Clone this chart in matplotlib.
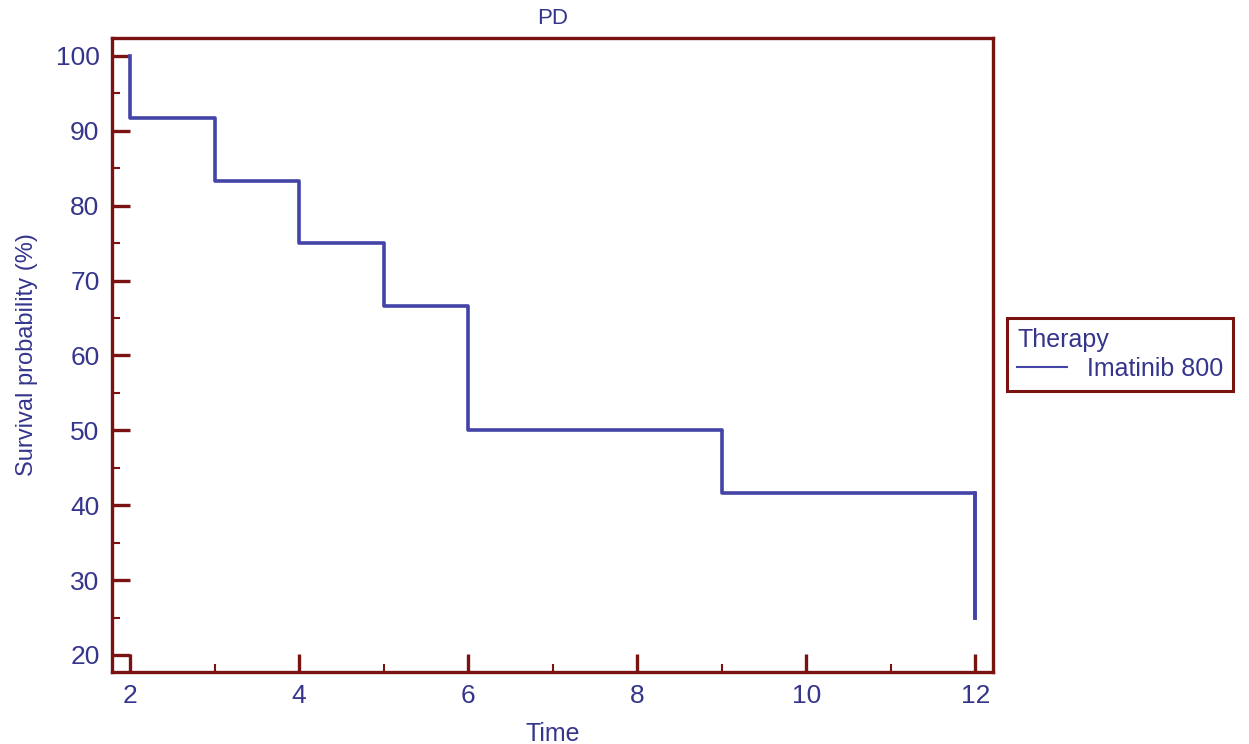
import numpy as np
import matplotlib.pyplot as plt

# survival data (step function)
time = [2, 2, 3, 4, 5, 6, 9, 12]
surv = [100, 91.67, 83.33, 75.0, 66.67, 50.0, 41.67, 25.0]

frame_col = '#7a1212'
text_col = '#35358c'
line_col = '#4343a8'

plt.rcParams['font.family'] = ['Liberation Sans', 'DejaVu Sans']

fig = plt.figure(figsize=(12.49, 7.44), dpi=100)
ax = fig.add_axes([0.0897, 0.0968, 0.7053, 0.8522])

# the last vertical step drawn with post steps
ax.step(time, surv, where='post', color=line_col, linewidth=2.6,
        label='Imatinib 800')
ax.plot([time[-1], time[-1]], [surv[-2], surv[-1]], color=line_col,
        linewidth=2.6)

ax.set_xlim(1.787, 12.21)
ax.set_ylim(17.73, 102.4)
ax.set_xticks([2, 4, 6, 8, 10, 12])
ax.set_xticks([3, 5, 7, 9, 11], minor=True)
ax.set_yticks(np.arange(20, 101, 10))
ax.set_yticks(np.arange(25, 100, 10), minor=True)

for s in ax.spines.values():
    s.set_color(frame_col)
    s.set_linewidth(2.4)

ax.tick_params(axis='both', which='major', direction='in', length=13,
               width=2.4, color=frame_col, labelcolor=text_col, labelsize=19)
ax.tick_params(axis='both', which='minor', direction='in', length=6,
               width=1.5, color=frame_col)
ax.tick_params(axis='x', pad=9)
ax.tick_params(axis='y', pad=9)

ax.set_xlabel('Time', color=text_col, fontsize=18, labelpad=10)
ax.set_ylabel('Survival probability (%)', color=text_col, fontsize=17,
              labelpad=13)
ax.set_title('PD', color=text_col, fontsize=16, pad=10)

leg = fig.legend(loc='upper left', bbox_to_anchor=(1007 / 1249, 1 - 318 / 744),
                 title='Therapy', fontsize=18, title_fontsize=18,
                 frameon=True, fancybox=False, framealpha=1,
                 handlelength=2.0, borderpad=0.4, labelspacing=0.2,
                 borderaxespad=0, alignment='left')
leg.get_frame().set_edgecolor(frame_col)
leg.get_frame().set_linewidth(2.2)
leg.get_title().set_color(text_col)
for t in leg.get_texts():
    t.set_color(text_col)
for h in leg.legend_handles:
    h.set_linewidth(1.5)

fig.savefig('out.png', dpi=100)
